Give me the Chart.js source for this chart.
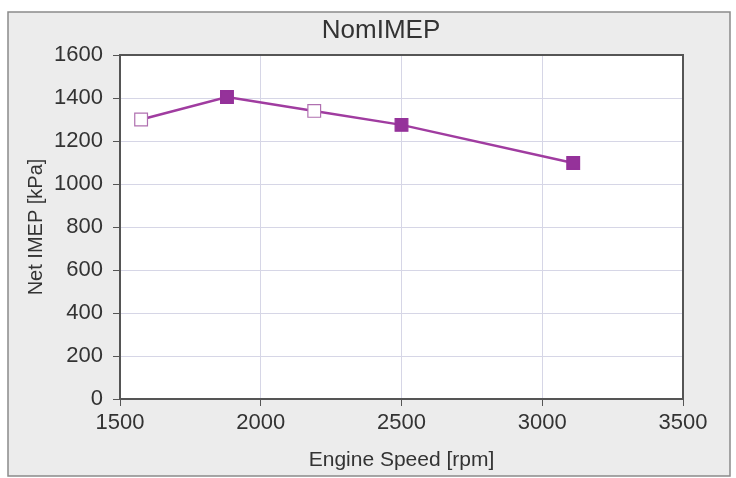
<!DOCTYPE html>
<html>
<head>
<meta charset="utf-8">
<script src="https://cdn.jsdelivr.net/npm/chart.js@4"></script>
<style>
  html, body { margin: 0; padding: 0; background: #ffffff; }
  #wrap { width: 736px; height: 478px; }
</style>
</head>
<body>
<div id="wrap"><canvas id="chart" width="736" height="478"></canvas></div>
<script>
    "use strict";

    // Data
    var chartTitle = "NomIMEP";
    var engineSpeed = [1575, 1880, 2190, 2500, 3110];
    var netImep = [1300, 1405, 1340, 1275, 1098];
    var filledMarker = [false, true, false, true, true];
    var xTicks = [1500, 2000, 2500, 3000, 3500];
    var yTicks = [0, 200, 400, 600, 800, 1000, 1200, 1400, 1600];

    var purple = "#a03ca0";
    var markerFill = "#95329a";
    var textColor = "#333333";

    // Frame, plot background and title
    var framePlugin = {
        id: "frame",
        beforeDraw: function (chart) {
            var c = chart.ctx, a = chart.chartArea;
            c.save();
            c.fillStyle = "#ffffff";
            c.fillRect(0, 0, chart.width, chart.height);
            c.fillStyle = "#ececec";
            c.fillRect(8, 12, 722, 464);
            c.strokeStyle = "#8a8a8a";
            c.lineWidth = 1.5;
            c.strokeRect(8, 12, 722, 464);
            c.fillStyle = "#ffffff";
            c.fillRect(a.left, a.top, a.right - a.left, a.bottom - a.top);
            c.restore();
        },
        afterDatasetsDraw: function (chart) {
            var c = chart.ctx, a = chart.chartArea;
            c.save();
            c.strokeStyle = "#555555";
            c.lineWidth = 2;
            c.strokeRect(a.left, a.top, a.right - a.left, a.bottom - a.top);
            c.fillStyle = textColor;
            c.font = "26px 'Liberation Sans'";
            c.textAlign = "center";
            c.textBaseline = "middle";
            c.fillText(chartTitle, 381, 31);
            c.restore();
        }
    };

    var ctx = document.getElementById("chart").getContext("2d");
    var myChart = new Chart(ctx, {
        type: "scatter",
        data: {
            datasets: [{
                label: chartTitle,
                data: engineSpeed.map(function (x, i) { return { x: x, y: netImep[i] }; }),
                showLine: true,
                borderColor: purple,
                borderWidth: 2.5,
                pointStyle: "rect",
                pointRadius: 9,
                pointHoverRadius: 9,
                pointBorderWidth: 1.2,
                pointBorderColor: filledMarker.map(function (f) { return f ? markerFill : "#b070b0"; }),
                pointBackgroundColor: filledMarker.map(function (f) { return f ? markerFill : "#ffffff"; })
            }]
        },
        options: {
            responsive: false,
            animation: false,
            layout: { padding: { left: 24, right: 53, top: 55, bottom: 5 } },
            plugins: {
                legend: { display: false },
                tooltip: { enabled: false },
                title: { display: false }
            },
            scales: {
                x: {
                    type: "linear",
                    min: 1500,
                    max: 3500,
                    afterBuildTicks: function (s) { s.ticks = xTicks.map(function (v) { return { value: v }; }); },
                    afterFit: function (s) { s.height = 74; },
                    grid: { color: "#d6d6e6", tickLength: 7, tickColor: "#555555", drawTicks: true },
                    border: { display: false },
                    ticks: {
                        color: textColor,
                        font: { family: "Liberation Sans", size: 22 },
                        padding: 4,
                        maxRotation: 0,
                        callback: function (v) { return String(v); }
                    },
                    title: {
                        display: true,
                        text: "Engine Speed [rpm]",
                        color: textColor,
                        font: { family: "Liberation Sans", size: 21 },
                        padding: { top: 0, bottom: 0 }
                    }
                },
                y: {
                    min: 0,
                    max: 1600,
                    afterBuildTicks: function (s) { s.ticks = yTicks.map(function (v) { return { value: v }; }); },
                    afterFit: function (s) { s.width = 96; },
                    grid: { color: "#d6d6e6", tickLength: 7, tickColor: "#555555", drawTicks: true },
                    border: { display: false },
                    ticks: {
                        color: textColor,
                        font: { family: "Liberation Sans", size: 22 },
                        padding: 10,
                        callback: function (v) { return String(v); }
                    },
                    title: {
                        display: true,
                        text: "Net IMEP [kPa]",
                        color: textColor,
                        font: { family: "Liberation Sans", size: 20 },
                        padding: { top: 0, bottom: 0 }
                    }
                }
            }
        },
        plugins: [framePlugin]
    });
</script>
</body>
</html>
